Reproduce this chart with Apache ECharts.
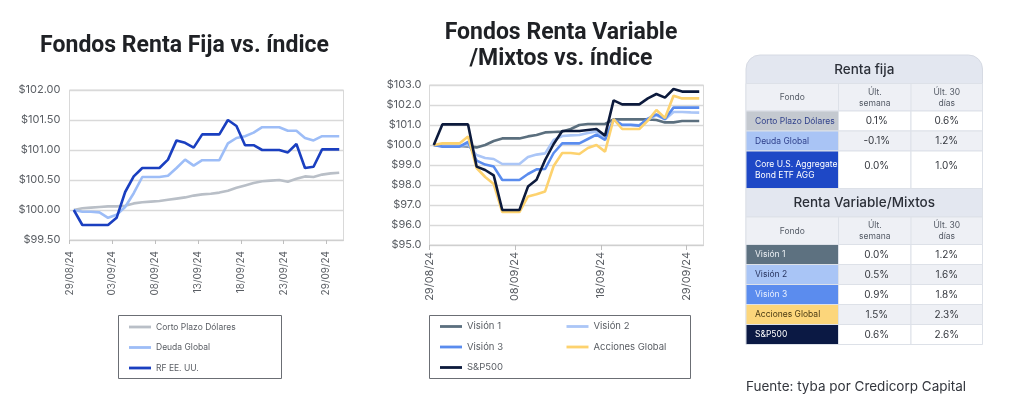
<!DOCTYPE html>
<html><head><meta charset="utf-8">
<script src="https://cdn.jsdelivr.net/npm/echarts@6.0.0/dist/echarts.min.js"></script>
<style>html,body{margin:0;padding:0;background:#fff}#c{width:1024px;height:409px}</style>
</head><body><div id="c"></div>
<script>
// ---------- data ----------
const dates = ['29/08/24','30/08/24','31/08/24','01/09/24','02/09/24','03/09/24','04/09/24','05/09/24','06/09/24','07/09/24','08/09/24','09/09/24','10/09/24','11/09/24','12/09/24','13/09/24','14/09/24','15/09/24','16/09/24','17/09/24','18/09/24','19/09/24','20/09/24','21/09/24','22/09/24','23/09/24','24/09/24','25/09/24','26/09/24','27/09/24','29/09/24','30/09/24'];
const leftTickIdx = [0,5,10,15,20,25,30];
const midTickIdx = [0,10,20,30];

const cortoPlazo = [100.00,100.03,100.04,100.05,100.06,100.06,100.07,100.11,100.13,100.14,100.15,100.17,100.19,100.21,100.24,100.26,100.27,100.29,100.32,100.37,100.41,100.45,100.48,100.49,100.50,100.47,100.52,100.56,100.55,100.59,100.61,100.62];
const deudaGlobal = [100.00,99.97,99.97,99.96,99.87,99.92,100.05,100.28,100.55,100.55,100.55,100.57,100.70,100.84,100.74,100.83,100.83,100.83,101.11,101.20,101.23,101.29,101.38,101.38,101.38,101.32,101.32,101.20,101.16,101.23,101.23,101.23];
const rfEEUU = [100.00,99.75,99.75,99.75,99.75,99.87,100.30,100.56,100.70,100.70,100.70,100.84,101.16,101.12,101.04,101.26,101.26,101.26,101.50,101.40,101.08,101.08,101.00,101.00,101.00,100.96,101.10,100.70,100.72,101.01,101.01,101.01];

const vision1 = [100.00,99.95,99.95,99.95,99.93,99.88,100.00,100.20,100.33,100.33,100.33,100.43,100.50,100.63,100.65,100.67,100.80,101.00,101.05,101.05,101.05,101.28,101.28,101.28,101.28,101.28,101.25,101.13,101.13,101.20,101.20,101.20];
const vision2 = [100.00,99.96,99.96,99.96,100.00,99.50,99.35,99.30,99.05,99.05,99.05,99.40,99.52,99.58,100.25,100.45,100.48,100.50,100.60,100.68,100.32,101.25,101.02,101.02,100.98,101.28,101.48,101.28,101.65,101.65,101.63,101.62];
const vision3 = [100.00,99.92,99.92,99.92,100.15,99.22,99.02,98.92,98.25,98.25,98.25,98.55,98.78,98.80,99.60,100.08,100.08,100.08,100.30,100.52,100.25,101.28,101.00,101.00,100.97,101.32,101.53,101.30,101.87,101.87,101.87,101.87];
const accionesGlobal = [100.00,100.08,100.08,100.08,100.43,98.85,98.40,98.05,96.65,96.65,96.65,97.43,97.54,97.68,98.95,99.60,99.60,99.55,99.85,100.00,99.67,101.30,100.80,100.80,100.80,101.22,101.75,101.35,102.46,102.33,102.33,102.33];
const sp500 = [100.00,101.03,101.03,101.03,101.03,98.92,98.75,98.48,96.75,96.75,96.75,97.92,98.26,99.25,100.05,100.70,100.70,100.70,100.75,100.80,100.47,102.23,102.03,102.03,102.03,102.33,102.55,102.37,102.80,102.67,102.67,102.67];

const rfNames = ['Corto Plazo Dólares','Deuda Global','Core U.S. Aggregate\nBond ETF AGG'];
const rfWeek = [0.1,-0.1,0.0];
const rfMonth = [0.6,1.2,1.0];
const rvNames = ['Visión 1','Visión 2','Visión 3','Acciones Global','S&P500'];
const rvWeek = [0.0,0.5,0.9,1.5,0.6];
const rvMonth = [1.2,1.6,1.8,2.3,2.6];

// ---------- styles ----------
const leftColors = ['#b9bfc7','#9dbdf7','#1a3fc0'];
const midColors = ['#5b6f7e','#abc6f7','#5a8cee','#fdd26e','#0c1a3c'];
const rfCellFill = ['#c4c9d0','#a9c4f5','#1e48c6'];
const rfCellText = ['#2e3f8a','#2e3f8a','#ffffff'];
const rvCellFill = ['#5d7180','#a9c5f6','#5b8cee','#fcd67b','#0b1944'];
const rvCellText = ['#eef2f5','#26335e','#eaf1ff','#4a3a12','#ffffff'];
const FONT = 'Inter, "Noto Sans", sans-serif';
const LEG_ICON = 'path://M0,0M22,12M0,4.6L22,4.6L22,7.4L0,7.4Z';

const pts = arr => arr.map((v,i)=>[i+0.5, v]);

function lineSeries(name, data, color, xi, yi){
  return {name, type:'line', xAxisIndex:xi, yAxisIndex:yi, data:pts(data), symbol:'none',
    lineStyle:{color, width:2.6}, itemStyle:{color}, animation:false};
}

const chart = echarts.init(document.getElementById('c'), null, {renderer:'canvas'});

// ---------- table graphics ----------
const g = [];
const cx = [746, 838.5, 911, 982.5];
const tableTop = 55;
g.push({type:'rect', shape:{x:cx[0], y:tableTop, width:cx[3]-cx[0], height:289, r:[14,14,0,0]}, style:{fill:'#e3e7f0', stroke:'#d6dae3', lineWidth:1}});
function cellRect(x,y,w,h,fill){ g.push({type:'rect', shape:{x,y,width:w,height:h}, style:{fill, stroke:'#dde1e8', lineWidth:1}}); }
function text(x,y,t,font,fill,align,va){ g.push({type:'text', x, y, style:{text:t, font, fill, textAlign:align||'center', textVerticalAlign:va||'middle', lineHeight:11}}); }
function block(y, title, names, week, month, fills, tcols){
  text((cx[0]+cx[3])/2, y+14.5, title, '500 13.5px '+FONT, '#2b2f38');
  y += 28.5;
  cellRect(cx[0], y, cx[3]-cx[0], 27.5, '#eef0f5');
  g.push({type:'line', shape:{x1:cx[1],y1:y,x2:cx[1],y2:y+27.5}, style:{stroke:'#dde1e8'}});
  g.push({type:'line', shape:{x1:cx[2],y1:y,x2:cx[2],y2:y+27.5}, style:{stroke:'#dde1e8'}});
  text((cx[0]+cx[1])/2, y+14, 'Fondo', '8.5px '+FONT, '#555b66');
  text((cx[1]+cx[2])/2, y+14, 'Últ.\nsemana', '8.5px '+FONT, '#555b66');
  text((cx[2]+cx[3])/2, y+14, 'Últ. 30\ndías', '8.5px '+FONT, '#555b66');
  y += 27.5;
  names.forEach((n,i)=>{
    const h = n.indexOf('\n')>=0 ? 37.5 : 20;
    const bg = i%2===0 ? '#ffffff' : '#eef0f5';
    cellRect(cx[0], y, cx[1]-cx[0], h, fills[i]);
    cellRect(cx[1], y, cx[2]-cx[1], h, bg);
    cellRect(cx[2], y, cx[3]-cx[2], h, bg);
    text(cx[0]+9, y+h/2, n, '8.5px '+FONT, tcols[i], 'left');
    const vy = h>25 ? y+15 : y+h/2;
    text((cx[1]+cx[2])/2+2, vy, week[i].toFixed(1)+'%', '10px '+FONT, '#33363d');
    text((cx[2]+cx[3])/2, vy, month[i].toFixed(1)+'%', '10px '+FONT, '#33363d');
    y += h;
  });
  return y;
}
let yb = block(tableTop, 'Renta fija', rfNames, rfWeek, rfMonth, rfCellFill, rfCellText);
cellRect(cx[0], yb, cx[3]-cx[0], 28.5, '#e3e7f0');
block(yb, 'Renta Variable/Mixtos', rvNames, rvWeek, rvMonth, rvCellFill, rvCellText);

text(746, 386.5, 'Fuente: tyba por Credicorp Capital', '13.5px '+FONT, '#33363d', 'left');

// titles
const TITLE_FONT = 'bold 23px Roboto, '+FONT;
text(184.5, 46, 'Fondos Renta Fija vs. índice', TITLE_FONT, '#1f2125');
text(561, 33, 'Fondos Renta Variable', TITLE_FONT, '#1f2125');
text(561, 59, '/Mixtos vs. índice', TITLE_FONT, '#1f2125');

// legend boxes
g.push({type:'rect', shape:{x:118.5, y:315.5, width:163, height:63}, style:{fill:'none', stroke:'#6b6e74', lineWidth:1}});
g.push({type:'rect', shape:{x:429.5, y:315.5, width:261, height:63}, style:{fill:'none', stroke:'#6b6e74', lineWidth:1}});

const axisLabelStyle = {color:'#595d63', fontFamily:FONT};
const legendBase = {orient:'vertical', itemWidth:22, itemHeight:12, itemGap:8.5, icon:LEG_ICON, selectedMode:false};

const option = {
  backgroundColor:'#ffffff',
  animation:false,
  textStyle:{fontFamily:FONT},
  grid:[
    {left:69.5, right:680.5, top:90, bottom:169, show:true, borderColor:'#d9d9d9', borderWidth:1},
    {left:429.5, right:320.5, top:85, bottom:164, show:true, borderColor:'#d9d9d9', borderWidth:1}
  ],
  xAxis:[
    {type:'value', gridIndex:0, min:0, max:dates.length,
      axisLine:{show:true, lineStyle:{color:'#cfcfcf'}},
      axisTick:{show:true, length:4, customValues:leftTickIdx, lineStyle:{color:'#bfbfbf'}},
      splitLine:{show:false},
      axisLabel:Object.assign({rotate:90, margin:11, fontSize:10, customValues:leftTickIdx, formatter:v=>dates[Math.round(v)]}, axisLabelStyle)},
    {type:'value', gridIndex:1, min:0, max:dates.length,
      axisLine:{show:true, lineStyle:{color:'#cfcfcf'}},
      axisTick:{show:true, length:5, customValues:midTickIdx, lineStyle:{color:'#bfbfbf'}},
      splitLine:{show:false},
      axisLabel:Object.assign({rotate:90, margin:7, fontSize:11, customValues:midTickIdx, formatter:v=>dates[Math.round(v)]}, axisLabelStyle)}
  ],
  yAxis:[
    {type:'value', gridIndex:0, min:99.5, max:102, interval:0.5,
      axisLine:{show:false}, axisTick:{show:false},
      splitLine:{lineStyle:{color:'#d9d9d9', width:1.3}},
      axisLabel:Object.assign({fontSize:11, margin:9, formatter:v=>'$'+v.toFixed(2)}, axisLabelStyle)},
    {type:'value', gridIndex:1, min:95, max:103, interval:1,
      axisLine:{show:false}, axisTick:{show:false},
      splitLine:{lineStyle:{color:'#d9d9d9', width:1.3}},
      axisLabel:Object.assign({fontSize:11, margin:8, formatter:v=>'$'+v.toFixed(1)}, axisLabelStyle)}
  ],
  legend:[
    Object.assign({data:['Corto Plazo Dólares','Deuda Global','RF EE. UU.'], left:124, top:316,
      textStyle:{fontSize:8.5, color:'#595d63', fontFamily:FONT}}, legendBase),
    Object.assign({data:['Visión 1','Visión 3','S&P500'], left:435, top:315.5,
      textStyle:{fontSize:9.5, color:'#595d63', fontFamily:FONT}}, legendBase),
    Object.assign({data:['Visión 2','Acciones Global'], left:561.5, top:315.5,
      textStyle:{fontSize:9.5, color:'#595d63', fontFamily:FONT}}, legendBase)
  ],
  series:[
    lineSeries('Corto Plazo Dólares', cortoPlazo, leftColors[0], 0, 0),
    lineSeries('Deuda Global', deudaGlobal, leftColors[1], 0, 0),
    lineSeries('RF EE. UU.', rfEEUU, leftColors[2], 0, 0),
    lineSeries('Visión 1', vision1, midColors[0], 1, 1),
    lineSeries('Visión 2', vision2, midColors[1], 1, 1),
    lineSeries('Visión 3', vision3, midColors[2], 1, 1),
    lineSeries('Acciones Global', accionesGlobal, midColors[3], 1, 1),
    lineSeries('S&P500', sp500, midColors[4], 1, 1)
  ],
  graphic:{elements:g}
};
chart.setOption(option);
</script>
</body></html>
